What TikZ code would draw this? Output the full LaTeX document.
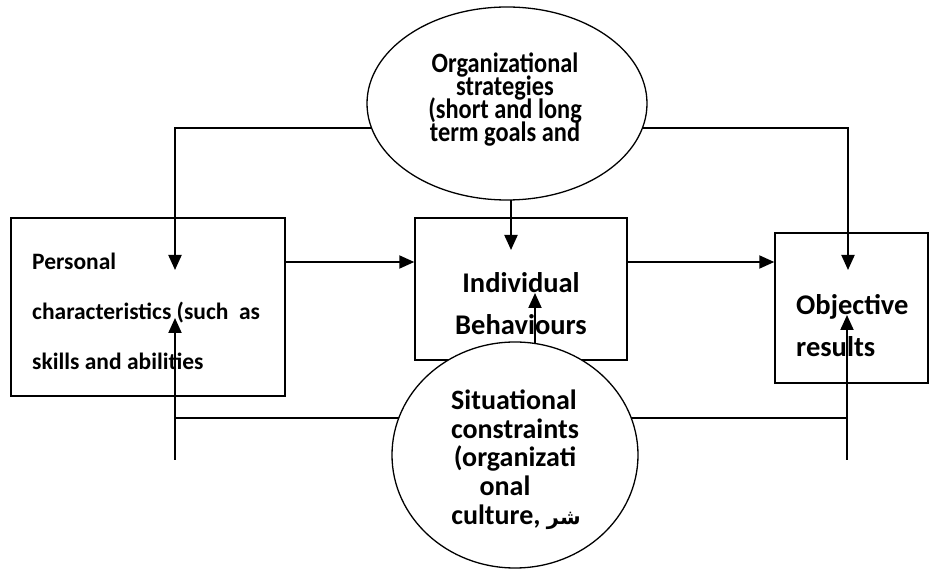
\documentclass[tikz,border=0pt]{standalone}
\usepackage{fontspec}
\setmainfont{Carlito}
\newfontfamily\condfont{Carlito}[FakeStretch=0.87]
\newfontfamily\arabicfont[Script=Arabic]{DejaVu Sans}
\TeXXeTstate=1
\usetikzlibrary{arrows.meta,shapes.geometric,backgrounds}
\tikzset{
  boxnode/.style={draw, line width=1.5pt, inner sep=0pt},
  ovalnode/.style={draw, ellipse, line width=1.3pt, fill=white, inner sep=0pt},
  conn/.style={line width=2pt},
  arr/.style={conn, -{Triangle[width=13pt,length=15pt]}},
  lbl/.style={inner sep=0pt, font=\bfseries},
  lblL/.style={lbl, font=\fontsize{23.5}{28}\selectfont\bfseries},
  lblM/.style={lbl, font=\fontsize{28.5}{34}\selectfont\bfseries},
  lblT/.style={lbl, font=\condfont\fontsize{28}{32}\selectfont\bfseries},
  lblB/.style={lbl, font=\fontsize{28}{34}\selectfont\bfseries},
}
\begin{document}
\begin{tikzpicture}[x=1pt,y=-1pt]
\useasboundingbox (0,0) rectangle (930,569);
% boxes
\node[boxnode, minimum width=274pt, minimum height=178pt] (pers) at (148,307) {};
\node[boxnode, minimum width=212pt, minimum height=142pt] (beh) at (521,289) {};
\node[boxnode, minimum width=153pt, minimum height=150pt] (res) at (851.5,308) {};
% ellipses
\node[ovalnode, minimum width=280pt, minimum height=193pt] (org) at (507,103.5) {};
\node[ovalnode, minimum width=246pt, minimum height=226pt] (sit) at (515,455) {};
% texts
\node[lblL, anchor=base west] (p1) at (32,270) {Personal};
\node[lblL, anchor=base west] (p2) at (32,320) {characteristics (such\ \ as};
\node[lblL, anchor=base west] (p3) at (32,370) {skills and abilities};
\node[lblM, anchor=base] (b1) at (521,293) {Individual};
\node[lblM, anchor=base] (b2) at (521,335) {Behaviours};
\node[lblM, anchor=base west] (r1) at (796,315) {Objective};
\node[lblM, anchor=base west] (r2) at (796,357) {results};
\node[lblT, anchor=base] (o1) at (505,73) {Organizational};
\node[lblT, anchor=base] (o2) at (505,96) {strategies};
\node[lblT, anchor=base] (o3) at (505,119) {(short and long};
\node[lblT, anchor=base] (o4) at (505,142) {term goals and};
\node[lblB, anchor=base] (s1) at (514,410) {Situational};
\node[lblB, anchor=base] (s2) at (515,438.5) {constraints};
\node[lblB, anchor=base] (s3) at (515,467) {(organizati};
\node[lblB, anchor=base] (s4) at (505,495.5) {onal};
\node[lblB, anchor=base] (s5) at (516,524) {culture, {\arabicfont\fontsize{21}{24}\selectfont\beginR شر\endR}};
% connector corners
\coordinate (tl) at (175,128);
\coordinate (tr) at (848,128);
\coordinate (bl) at (175,418);
\coordinate (br) at (847,418);
\coordinate (blEnd) at (175,460);
\coordinate (brEnd) at (847,460);
\begin{scope}[on background layer]
  \draw[arr] (org.center |- tl) -- (tl) -- (175,270);
  \draw[arr] (org.center |- tr) -- (tr) -- (848,270);
  \draw[arr] (org.center -| 511,0) -- (511,250);
  \draw[arr] (pers.east |- 0,262) -- (beh.west |- 0,262);
  \draw[arr] (beh.east |- 0,262) -- (res.west |- 0,262);
  \draw[conn] (sit.center |- bl) -- (bl);
  \draw[arr] (blEnd) -- (175,318);
  \draw[conn] (sit.center |- br) -- (br);
  \draw[arr] (brEnd) -- (847,315);
  \draw[arr] (sit.center -| 535,0) -- (535,293);
\end{scope}
\end{tikzpicture}
\end{document}
